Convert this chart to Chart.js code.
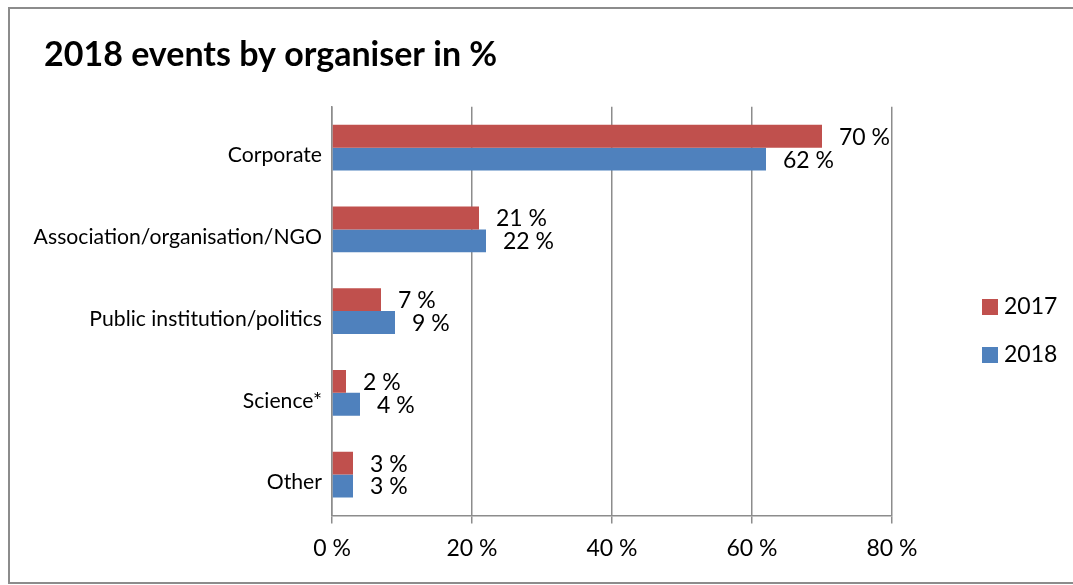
<!DOCTYPE html>
<html>
<head>
<meta charset="utf-8">
<script src="https://cdn.jsdelivr.net/npm/chart.js@4.4.1/dist/chart.umd.min.js"></script>
<style>
  html, body { margin: 0; padding: 0; overflow: hidden; background: #fff; }
  #frame { position: absolute; left: 8px; top: 7px; width: 1100px; height: 573px; border: 2px solid #8c8c8c; }
  #wrap { position: absolute; left: 0; top: 0; width: 1073px; height: 585px; }
</style>
</head>
<body>
<div id="frame"></div>
<div id="wrap"><canvas id="chart" width="1073" height="585"></canvas></div>
<script>
const categories = ['Corporate', 'Association/organisation/NGO', 'Public institution/politics', 'Science*', 'Other'];
const series2017 = [70, 21, 7, 2, 3];
const series2018 = [62, 22, 9, 4, 3];
const xTicks = [0, 20, 40, 60, 80];

const FONT = 'Lato';
const gridColor = '#8c8c8c';

// value labels right of each bar
const valueLabels = {
  id: 'valueLabels',
  afterDatasetsDraw(chart) {
    const ctx = chart.ctx;
    ctx.save();
    ctx.font = '23px ' + FONT;
    ctx.fillStyle = '#000';
    ctx.textAlign = 'left';
    ctx.textBaseline = 'middle';
    chart.data.datasets.forEach((ds, i) => {
      chart.getDatasetMeta(i).data.forEach((bar, j) => {
        ctx.fillText(ds.data[j] + ' %', bar.x + 17, bar.y + 1);
      });
    });
    ctx.restore();
  }
};

// legend at the right
const sideLegend = {
  id: 'sideLegend',
  afterDraw(chart) {
    const ctx = chart.ctx;
    ctx.save();
    ctx.font = '23px ' + FONT;
    ctx.textBaseline = 'middle';
    chart.data.datasets.forEach((ds, i) => {
      const y = 299 + i * 48;
      ctx.fillStyle = ds.backgroundColor;
      ctx.fillRect(982, y, 16, 16);
      ctx.fillStyle = '#000';
      ctx.fillText(ds.label, 1004, y + 8);
    });
    ctx.restore();
  }
};

// title sits a bit right of the category labels
const titleShift = {
  id: 'titleShift',
  afterLayout(chart) {
    if (chart.titleBlock) chart.titleBlock.left = 44;
  }
};

new Chart(document.getElementById('chart').getContext('2d'), {
  type: 'bar',
  data: {
    labels: categories,
    datasets: [
      { label: '2017', data: series2017, backgroundColor: '#C0504D' },
      { label: '2018', data: series2018, backgroundColor: '#4F81BD' }
    ]
  },
  options: {
    indexAxis: 'y',
    responsive: false,
    animation: false,
    layout: { padding: { left: 30, right: 181, top: 0, bottom: 12 } },
    datasets: { bar: { categoryPercentage: 0.56, barPercentage: 1.0 } },
    plugins: {
      legend: { display: false },
      tooltip: { enabled: false },
      title: {
        display: true,
        text: '2018 events by organiser in %',
        align: 'start',
        color: '#000',
        font: { family: FONT, size: 34, weight: 'bold', lineHeight: 1.2 },
        padding: { top: 35, bottom: 31 }
      }
    },
    scales: {
      x: {
        min: 0,
        max: 80,
        afterBuildTicks: (s) => { s.ticks = xTicks.map(v => ({ value: v })); },
        grid: { color: gridColor, lineWidth: 1.5, tickLength: 8 },
        border: { color: gridColor, width: 1.5 },
        ticks: {
          color: '#000',
          padding: 11,
          font: { family: FONT, size: 23 },
          callback: (v) => v + ' %'
        }
      },
      y: {
        afterFit: (s) => { s.width = 302; },
        grid: { display: false, drawTicks: false },
        border: { display: true, color: gridColor, width: 1.5 },
        ticks: { color: '#000', padding: 10, labelOffset: 8, font: { family: FONT, size: 21.2 } }
      }
    }
  },
  plugins: [valueLabels, sideLegend, titleShift]
});
</script>
</body>
</html>
